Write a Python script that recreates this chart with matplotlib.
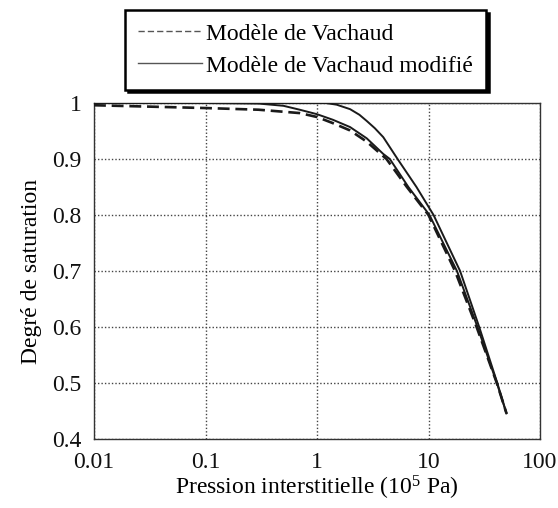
import matplotlib
matplotlib.use("Agg")
import matplotlib.pyplot as plt
from matplotlib.ticker import FixedLocator, FixedFormatter, NullLocator

plt.rcParams['font.family'] = ['Liberation Serif', 'DejaVu Serif']
plt.rcParams['mathtext.fontset'] = 'custom'
plt.rcParams['mathtext.rm'] = 'Liberation Serif'
plt.rcParams['mathtext.it'] = 'Liberation Serif:italic'

# Vachaud model (dashed)
p_vachaud = [0.01, 0.1, 0.3, 0.7, 1.0, 1.39, 1.98, 2.79, 3.93, 4.2, 6.4, 10.0, 17.3, 27.0, 41.0, 50.0]
s_vachaud = [0.996, 0.991, 0.988, 0.982, 0.975, 0.964, 0.951, 0.931, 0.905, 0.90, 0.85, 0.80, 0.70, 0.60, 0.50, 0.446]

# Modified Vachaud model, first parameter set (solid)
p_mod1 = [0.01, 0.1, 0.3, 0.5, 0.7, 1.0, 1.39, 1.98, 2.79, 3.93, 4.5, 6.6, 10.2, 18.0, 27.5, 41.0, 50.0]
s_mod1 = [1.0, 1.0, 0.999, 0.995, 0.988, 0.980, 0.970, 0.957, 0.937, 0.909, 0.90, 0.85, 0.80, 0.70, 0.60, 0.50, 0.446]

# Modified Vachaud model, second parameter set (solid)
p_mod2 = [0.01, 0.1, 1.0, 1.2, 1.5, 1.98, 2.4, 2.79, 3.3, 3.93, 5.28, 7.8, 11.1, 19.2, 28.5, 41.4, 50.0]
s_mod2 = [1.0, 1.0, 1.0, 1.0, 0.997, 0.989, 0.979, 0.968, 0.955, 0.939, 0.90, 0.85, 0.80, 0.70, 0.60, 0.50, 0.446]

x_ticks = [0.01, 0.1, 1, 10, 100]
x_ticklabels = ['0.01', '0.1', '1', '10', '100']
y_ticks = [0.4, 0.5, 0.6, 0.7, 0.8, 0.9, 1.0]
y_ticklabels = ['0.4', '0.5', '0.6', '0.7', '0.8', '0.9', '1']

fig = plt.figure(figsize=(5.58, 5.08), dpi=100)
ax = fig.add_axes([94/558, 1-439/508, (540-94)/558, (439-103)/508])

ax.set_xscale('log')
ax.set_xlim(0.01, 100)
ax.set_ylim(0.4, 1.0)

ax.plot(p_vachaud, s_vachaud, color='#1a1a1a', lw=1.9, ls=(0, (4.5, 2.2)),
        label='Modèle de Vachaud', zorder=3)
ax.plot(p_mod1, s_mod1, color='#1a1a1a', lw=1.4, label='Modèle de Vachaud modifié', zorder=3)
ax.plot(p_mod2, s_mod2, color='#1a1a1a', lw=1.4, zorder=3)

ax.xaxis.set_major_locator(FixedLocator(x_ticks))
ax.xaxis.set_major_formatter(FixedFormatter(x_ticklabels))
ax.xaxis.set_minor_locator(NullLocator())
ax.yaxis.set_major_locator(FixedLocator(y_ticks))
ax.yaxis.set_major_formatter(FixedFormatter(y_ticklabels))

ax.grid(True, which='major', color='#444444', lw=1.0, ls=(0, (1, 1.5)))
ax.tick_params(length=0, labelsize=17, pad=9, colors='#111111')
for sp in ax.spines.values():
    sp.set_linewidth(1.0)
    sp.set_color('#333333')

ax.set_xlabel('Pression interstitielle (10$^{5}$ Pa)', fontsize=17, labelpad=1)
ax.set_ylabel('Degré de saturation', fontsize=17, labelpad=7)

leg = fig.legend(loc='upper left', bbox_to_anchor=(125/558, 1-10/508),
                 fontsize=17, frameon=True, fancybox=False,
                 shadow={'color': 'black', 'alpha': 1.0},
                 edgecolor='black', framealpha=1.0, borderpad=0.55,
                 handlelength=2.7, handletextpad=0.2, labelspacing=0.45,
                 borderaxespad=0)
leg.get_frame().set_linewidth(1.8)
for h in leg.get_lines():
    h.set_linewidth(1.0)
    h.set_color('#555555')

fig.savefig('out.png', dpi=100)
